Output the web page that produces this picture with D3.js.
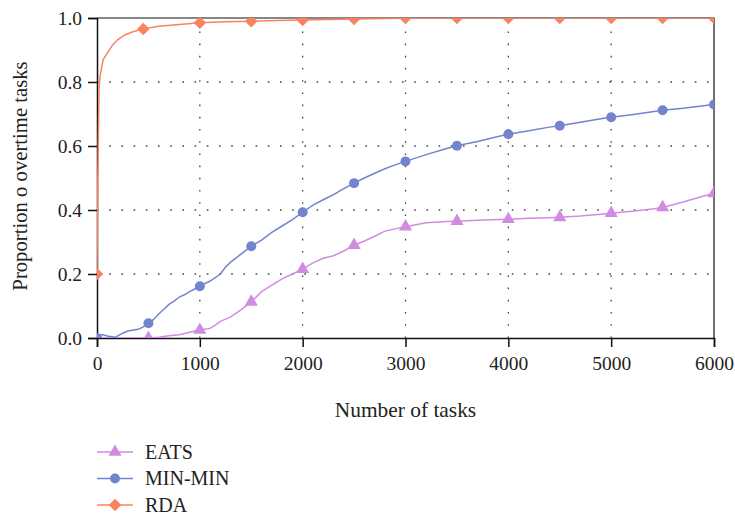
<!DOCTYPE html>
<html>
<head>
<meta charset="utf-8">
<script src="https://cdn.jsdelivr.net/npm/d3@7"></script>
<style>
  body { margin: 0; background: #fff; }
  svg { display: block; }
  text { font-family: "Liberation Serif", "DejaVu Serif", serif; fill: #222; }
</style>
</head>
<body>
<svg id="chart" width="735" height="517"></svg>
<script>
// ---- Data ----
const seriesNames = ["EATS", "MIN-MIN", "RDA"];
const xTicks = [0, 1000, 2000, 3000, 4000, 5000, 6000];
const yTicks = [0.0, 0.2, 0.4, 0.6, 0.8, 1.0];

// Detailed line traces
const eatsLineX = [0, 500, 600, 700, 800, 900, 1000, 1100, 1150, 1200, 1300, 1400, 1500, 1600, 1700, 1800, 1900, 2000, 2100, 2200, 2300, 2400, 2500, 2600, 2700, 2800, 2900, 3000, 3200, 3400, 3500, 3700, 3900, 4000, 4200, 4400, 4500, 4700, 4900, 5000, 5200, 5400, 5500, 5700, 5900, 6000];
const eatsLineY = [0, 0.0, 0.002, 0.007, 0.01, 0.018, 0.025, 0.03, 0.04, 0.052, 0.066, 0.088, 0.113, 0.145, 0.165, 0.185, 0.2, 0.215, 0.235, 0.249, 0.257, 0.272, 0.29, 0.303, 0.318, 0.334, 0.341, 0.348, 0.36, 0.364, 0.365, 0.368, 0.37, 0.371, 0.374, 0.376, 0.377, 0.381, 0.387, 0.39, 0.396, 0.403, 0.408, 0.425, 0.444, 0.452];

const minLineX = [0, 25, 50, 100, 175, 250, 300, 400, 450, 500, 550, 600, 650, 700, 750, 800, 850, 900, 950, 1000, 1100, 1200, 1250, 1300, 1400, 1500, 1600, 1700, 1800, 1900, 2000, 2100, 2200, 2300, 2400, 2500, 2600, 2700, 2800, 2900, 3000, 3200, 3400, 3500, 3700, 3900, 4000, 4200, 4400, 4500, 4700, 4900, 5000, 5200, 5400, 5500, 5700, 5900, 6000];
const minLineY = [0.0, 0.008, 0.011, 0.006, 0.002, 0.015, 0.022, 0.027, 0.035, 0.046, 0.058, 0.075, 0.09, 0.105, 0.115, 0.128, 0.135, 0.145, 0.153, 0.162, 0.178, 0.2, 0.222, 0.237, 0.262, 0.287, 0.306, 0.33, 0.35, 0.37, 0.393, 0.415, 0.432, 0.448, 0.467, 0.484, 0.5, 0.515, 0.529, 0.541, 0.552, 0.573, 0.592, 0.601, 0.614, 0.63, 0.637, 0.648, 0.659, 0.663, 0.674, 0.685, 0.69, 0.698, 0.707, 0.712, 0.718, 0.726, 0.73];

const rdaLineX = [0, 8, 20, 30, 60, 100, 150, 200, 270, 350, 450, 600, 800, 1000, 1250, 1500, 1750, 2000, 2500, 3000, 3500, 4000, 4500, 5000, 5500, 6000];
const rdaLineY = [0.2, 0.5, 0.78, 0.82, 0.87, 0.89, 0.915, 0.932, 0.947, 0.957, 0.966, 0.974, 0.98, 0.985, 0.988, 0.99, 0.992, 0.994, 0.997, 0.999, 1.0, 1.0, 1.0, 1.0, 1.0, 1.0];

// Marker points
const eatsMarkX = [500, 1000, 1500, 2000, 2500, 3000, 3500, 4000, 4500, 5000, 5500, 6000];
const eatsMarkY = [0.0, 0.025, 0.113, 0.215, 0.29, 0.348, 0.365, 0.371, 0.377, 0.39, 0.408, 0.452];
const minMarkX = [0, 500, 1000, 1500, 2000, 2500, 3000, 3500, 4000, 4500, 5000, 5500, 6000];
const minMarkY = [0.0, 0.046, 0.162, 0.287, 0.393, 0.484, 0.552, 0.601, 0.637, 0.663, 0.69, 0.712, 0.73];
const rdaMarkX = [0, 450, 1000, 1500, 2000, 2500, 3000, 3500, 4000, 4500, 5000, 5500, 6000];
const rdaMarkY = [0.2, 0.966, 0.985, 0.99, 0.994, 0.997, 1.0, 1.0, 1.0, 1.0, 1.0, 1.0, 1.0];

const colors = { "EATS": "#d08ce0", "MIN-MIN": "#7383cd", "RDA": "#fa825e" };

// ---- Build ----
const svg = d3.select("#chart");
const m = { left: 97, top: 18, right: 735 - 714, bottom: 517 - 338 };
const W = 735 - m.left - m.right, H = 517 - m.top - m.bottom;

const x = d3.scaleLinear().domain([0, 6000]).range([m.left, m.left + W]);
const y = d3.scaleLinear().domain([0, 1]).range([m.top + H, m.top]);

svg.append("defs").append("clipPath").attr("id", "plotclip")
  .append("rect").attr("x", m.left).attr("y", m.top).attr("width", W).attr("height", H);

// grid
const grid = svg.append("g").attr("stroke", "#444").attr("stroke-width", 1.3).attr("stroke-dasharray", "1.6,10.6");
grid.selectAll("line.v").data(xTicks.filter(d => d > 0 && d < 6000)).join("line")
  .attr("x1", d => x(d)).attr("x2", d => x(d)).attr("y1", m.top + H).attr("y2", m.top);
grid.selectAll("line.h").data(yTicks.filter(d => d > 0 && d < 1)).join("line")
  .attr("x1", m.left).attr("x2", m.left + W).attr("y1", d => y(d)).attr("y2", d => y(d));

// frame top/right
svg.append("path").attr("d", `M${m.left},${m.top}H${m.left + W}V${m.top + H}`)
  .attr("fill", "none").attr("stroke", "#111").attr("stroke-width", 1.2);

// axes
const xAxis = svg.append("g").attr("transform", `translate(0,${m.top + H})`)
  .call(d3.axisBottom(x).tickValues(xTicks).tickFormat(d3.format("d")).tickSizeOuter(0).tickSize(9).tickPadding(9));
const yAxis = svg.append("g").attr("transform", `translate(${m.left},0)`)
  .call(d3.axisLeft(y).tickValues(yTicks).tickFormat(d3.format(".1f")).tickSizeOuter(0).tickSize(9).tickPadding(6));
[xAxis, yAxis].forEach(a => {
  a.selectAll("path.domain").attr("stroke", "#111").attr("stroke-width", 1.5);
  a.selectAll(".tick line").attr("stroke", "#111").attr("stroke-width", 1.5);
  a.selectAll("text").attr("font-family", '"Liberation Serif", serif').attr("font-size", 19.5).attr("fill", "#222");
});
yAxis.selectAll("text").attr("dy", "0.34em");

// axis titles
svg.append("text").attr("x", 405.5).attr("y", 417).attr("text-anchor", "middle")
  .attr("font-size", 21.4).text("Number of tasks");
svg.append("text").attr("transform", `translate(27,176) rotate(-90)`).attr("text-anchor", "middle")
  .attr("font-size", 20.7).text("Proportion o overtime tasks");

// series
const line = d3.line().x(d => x(d[0])).y(d => y(d[1]));
const series = [
  { name: "EATS", lx: eatsLineX, ly: eatsLineY, mx: eatsMarkX, my: eatsMarkY, sym: d3.symbolTriangle, size: 75, rot: 0 },
  { name: "MIN-MIN", lx: minLineX, ly: minLineY, mx: minMarkX, my: minMarkY, sym: d3.symbolCircle, size: 78, rot: 0 },
  { name: "RDA", lx: rdaLineX, ly: rdaLineY, mx: rdaMarkX, my: rdaMarkY, sym: d3.symbolSquare, size: 78, rot: 45 }
];
const plot = svg.append("g").attr("clip-path", "url(#plotclip)");
series.forEach(s => {
  const pts = s.lx.map((v, i) => [v, s.ly[i]]);
  plot.append("path").datum(pts).attr("d", line).attr("fill", "none")
    .attr("stroke", colors[s.name]).attr("stroke-width", 1.5);
  const mp = s.mx.map((v, i) => [v, s.my[i]]);
  plot.selectAll(null).data(mp).join("path")
    .attr("transform", d => `translate(${x(d[0])},${y(d[1])}) rotate(${s.rot})`)
    .attr("d", d3.symbol().type(s.sym).size(s.size))
    .attr("fill", colors[s.name]);
});

// legend
const legY = [452, 478.5, 505];
series.forEach((s, i) => {
  const g = svg.append("g").attr("transform", `translate(0,${legY[i]})`);
  g.append("line").attr("x1", 97).attr("x2", 133).attr("y1", 0).attr("y2", 0)
    .attr("stroke", colors[s.name]).attr("stroke-width", 1.5);
  g.append("path").attr("transform", `translate(115,0) rotate(${s.rot})`)
    .attr("d", d3.symbol().type(s.sym).size(s.size)).attr("fill", colors[s.name]);
  g.append("text").attr("x", 145).attr("y", 0).attr("dy", "0.34em").attr("font-size", 20).text(s.name);
});
</script>
</body>
</html>
